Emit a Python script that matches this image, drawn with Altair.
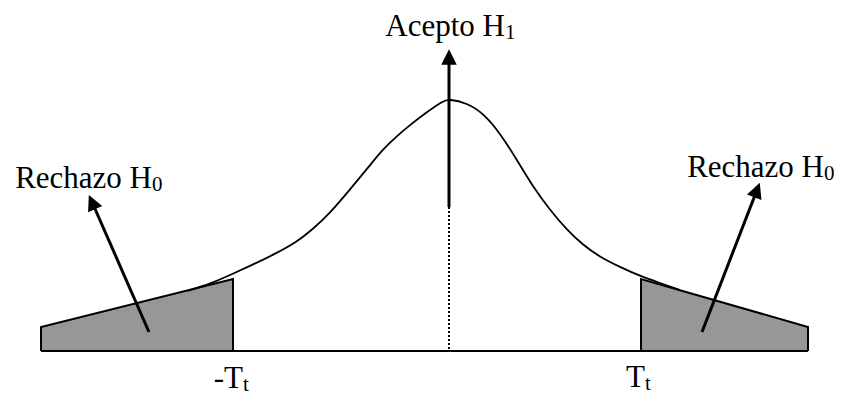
import altair as alt
import pandas as pd

# ---- data (image pixel coordinates) ----
curve_x = [187, 210, 230, 250, 273, 297, 313, 330, 347, 367, 383, 397, 410, 427, 443, 449,
           467, 483, 500, 517, 533, 550, 567, 583, 600, 620, 640, 660, 680]
curve_y = [291, 284, 275, 266, 255, 242, 229, 213, 193, 169, 149, 136, 125, 112, 101, 99,
           103, 113, 133, 160, 187, 210, 230, 245, 257, 267, 276, 283, 290]

left_poly_x = [41, 41, 233, 233]
left_poly_y = [351, 327, 279, 351]
right_poly_x = [641, 641, 808, 808]
right_poly_y = [351, 279, 327, 351]
base_y = 351
axis_x = [41, 808]

center_x = 449
center_solid = [62, 207]
center_dotted = [207, 351]

shaft_x1 = [149, 702]
shaft_y1 = [332, 332]
shaft_x2 = [92, 757]
shaft_y2 = [202, 190]

head_x = [449, 92, 757]
head_y = [57, 202, 190]
head_angle = [0, 336, 21]

main_text = ["Acepto H", "Rechazo H", "Rechazo H", "-T", "T"]
main_x = [505, 152, 824, 243, 645]
main_y = [36, 188, 177, 388, 387]
sub_text = ["1", "0", "0", "t", "t"]
sub_x = [505, 152, 824, 243, 645]
sub_y = [39, 191, 180, 391, 390]

FONT = "Liberation Serif"

xs = alt.Scale(domain=[8, 835], nice=False, zero=False)
ys = alt.Scale(domain=[8, 388], nice=False, zero=False, reverse=True)

def X(f):
    return alt.X(f, type="quantitative", scale=xs, axis=None)

def Y(f):
    return alt.Y(f, type="quantitative", scale=ys, axis=None)

# shaded tails
poly_df = pd.DataFrame({
    "x": left_poly_x[1:3] + right_poly_x[1:3],
    "y": left_poly_y[1:3] + right_poly_y[1:3],
    "b": [base_y] * 4,
    "side": ["L", "L", "R", "R"],
})
areas = alt.Chart(poly_df).mark_area(color="#979797", opacity=1, interpolate="linear").encode(
    x=X("x"), y=Y("y"), y2="b", detail="side:N"
)

outline_df = pd.DataFrame({
    "x": left_poly_x + right_poly_x,
    "y": left_poly_y + right_poly_y,
    "o": list(range(4)) * 2,
    "side": ["L"] * 4 + ["R"] * 4,
})
outline = alt.Chart(outline_df).mark_line(color="black", strokeWidth=2, strokeJoin="miter").encode(
    x=X("x"), y=Y("y"), order="o:Q", detail="side:N"
)

base_df = pd.DataFrame({"x": [axis_x[0]], "x2": [axis_x[1]], "y": [base_y]})
baseline = alt.Chart(base_df).mark_rule(color="black", strokeWidth=2).encode(
    x=X("x"), x2="x2", y=Y("y")
)

curve_df = pd.DataFrame({"x": curve_x, "y": curve_y})
curve = alt.Chart(curve_df).mark_line(color="black", strokeWidth=1.8, interpolate="basis").encode(
    x=X("x"), y=Y("y")
)

solid_df = pd.DataFrame({"x": [center_x], "y": [center_solid[0]], "y2": [center_solid[1]]})
solid = alt.Chart(solid_df).mark_rule(color="black", strokeWidth=3).encode(
    x=X("x"), y=Y("y"), y2="y2"
)
dot_df = pd.DataFrame({"x": [center_x], "y": [center_dotted[0]], "y2": [center_dotted[1]]})
dotted = alt.Chart(dot_df).mark_rule(color="black", strokeWidth=2, strokeDash=[2, 2]).encode(
    x=X("x"), y=Y("y"), y2="y2"
)

shaft_df = pd.DataFrame({"x": shaft_x1, "y": shaft_y1, "x2": shaft_x2, "y2": shaft_y2})
shafts = alt.Chart(shaft_df).mark_rule(color="black", strokeWidth=3).encode(
    x=X("x"), y=Y("y"), x2="x2", y2="y2"
)

head_df = pd.DataFrame({"x": head_x, "y": head_y, "a": head_angle})
heads = alt.Chart(head_df).mark_point(
    shape="M0,-1L1,1L-1,1Z", filled=True, color="black", opacity=1, size=240
).encode(
    x=X("x"), y=Y("y"), angle=alt.Angle("a:Q", scale=None)
)

main_df = pd.DataFrame({"x": main_x, "y": main_y, "t": main_text})
mains = alt.Chart(main_df).mark_text(
    align="right", baseline="alphabetic", font=FONT, fontSize=31, color="black"
).encode(x=X("x"), y=Y("y"), text="t:N")

sub_df = pd.DataFrame({"x": sub_x, "y": sub_y, "t": sub_text})
subs = alt.Chart(sub_df).mark_text(
    align="left", baseline="alphabetic", font=FONT, fontSize=21, color="black"
).encode(x=X("x"), y=Y("y"), text="t:N")

chart = alt.layer(
    areas, outline, baseline, curve, dotted, solid, shafts, heads, mains, subs
).properties(
    width=827, height=380,
    autosize=alt.AutoSizeParams(type="none"),
    padding={"left": 0, "top": 0, "right": 0, "bottom": 8},
    background="white",
).configure_view(stroke=None)

chart.save("out.html", embed_options={"renderer": "svg", "actions": False})
